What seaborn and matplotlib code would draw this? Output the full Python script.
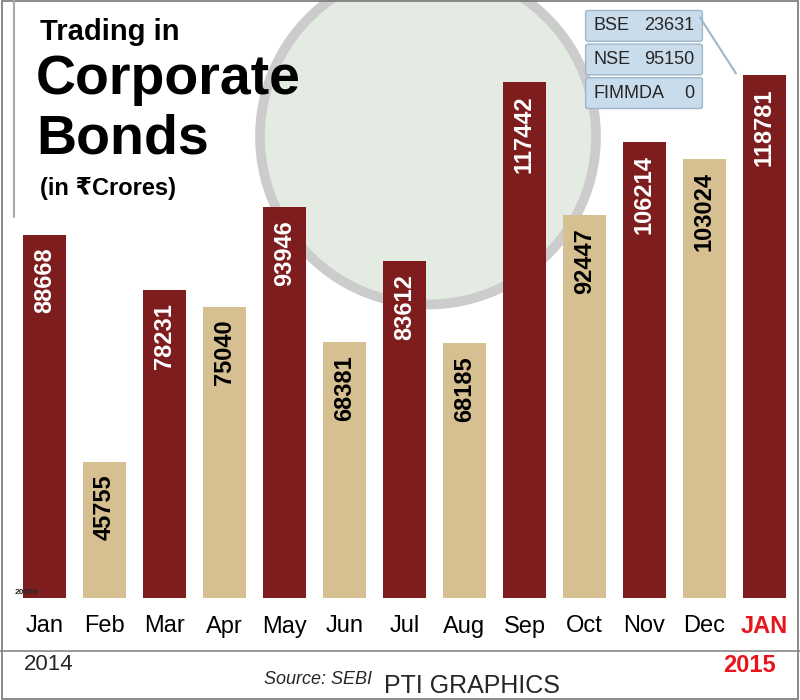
import matplotlib
matplotlib.use("Agg")
import matplotlib.pyplot as plt
import seaborn as sns
import pandas as pd
from matplotlib.patches import Ellipse, FancyBboxPatch

months = ["Jan","Feb","Mar","Apr","May","Jun","Jul","Aug","Sep","Oct","Nov","Dec","JAN"]
values = [88668,45755,78231,75040,93946,68381,83612,68185,117442,92447,106214,103024,118781]
kinds = ["r","t","r","t","r","t","r","t","r","t","r","t","r"]
inset_labels = ["BSE","NSE","FIMMDA"]
inset_values = ["23631","95150","0"]

sns.set_theme(style="white")
plt.rcParams['font.family'] = ['Liberation Sans Narrow', 'Liberation Sans', 'DejaVu Sans']

fig = plt.figure(figsize=(8,7), dpi=100)
fig.patch.set_facecolor("white")

# decorative circle (behind axes)
fig.add_artist(Ellipse((0.535, 0.805), 0.42, 0.48, transform=fig.transFigure,
                       facecolor="#E4EBE2", edgecolor="#CCCCCC", lw=7, zorder=-1))

ax = fig.add_axes([0.018, 0.146, 0.975, 0.854])
ax.patch.set_alpha(0)
df = pd.DataFrame({"m": months, "v": values, "k": kinds})
pal = {"r": "#8E0D0D", "t": "#E2C486"}
sns.barplot(data=df, x="m", y="v", hue="k", palette=pal, dodge=False, legend=False,
            width=0.72, ax=ax, edgecolor="none", zorder=3)
ax.set_ylim(20000, 133000)
ax.set_xlim(-0.5, 12.5)
ax.axis("off")

for i, (v, k) in enumerate(zip(values, kinds)):
    ax.text(i, v - 2500, str(v), rotation=90, ha="center", va="top",
            fontsize=17, fontweight="bold", color="white" if k == "r" else "black", zorder=5)

ax.text(-0.5, 20300, "20000", fontsize=6, fontweight="bold", va="bottom", ha="left")

for i, m in enumerate(months):
    fig.text(0.018 + 0.975 * (i + 0.5) / 13, 0.105, m, ha="center", va="center",
             fontsize=17, color="#E8161B" if m == "JAN" else "black",
             fontweight="bold" if m == "JAN" else "normal")
fig.add_artist(plt.Line2D([0, 1], [0.07, 0.07], color="#888888", lw=1.2))
fig.text(0.03, 0.05, "2014", fontsize=16, va="center")
fig.text(0.97, 0.05, "2015", fontsize=17, va="center", ha="right", color="#E8161B", fontweight="bold")
fig.text(0.33, 0.03, "Source: SEBI", fontsize=13, style="italic", va="center")
fig.text(0.48, 0.02, "PTI GRAPHICS", fontsize=18, va="center")

fig.text(0.05, 0.955, "Trading in", fontsize=21, fontweight="bold", va="center", color="black")
fig.text(0.045, 0.885, "Corporate", fontsize=40, fontweight="bold", va="center", color="black")
fig.text(0.045, 0.80, "Bonds", fontsize=40, fontweight="bold", va="center", color="black")
fig.text(0.05, 0.73, "(in ₹Crores)", fontsize=17, fontweight="bold", va="center", color="black")
fig.add_artist(plt.Line2D([0.018, 0.018], [0.69, 1.0], color="#AAAAAA", lw=1.5))

ys = [0.963, 0.915, 0.867]
for lab, val, y in zip(inset_labels, inset_values, ys):
    fig.add_artist(FancyBboxPatch((0.735, y - 0.019), 0.14, 0.038,
                                  boxstyle="round,pad=0.003", facecolor="#C9DCEB",
                                  edgecolor="#9FB6C8", lw=1, transform=fig.transFigure))
    fig.text(0.742, y, lab, fontsize=13, va="center")
    fig.text(0.868, y, val, fontsize=13, va="center", ha="right")
fig.add_artist(plt.Line2D([0.875, 0.92], [0.975, 0.895], color="#9FB6C8", lw=1.5))

fig.add_artist(plt.Rectangle((0.002, 0.002), 0.996, 0.996, fill=False, edgecolor="#777777",
                             lw=1.2, transform=fig.transFigure))
fig.savefig("out.png", dpi=100)
